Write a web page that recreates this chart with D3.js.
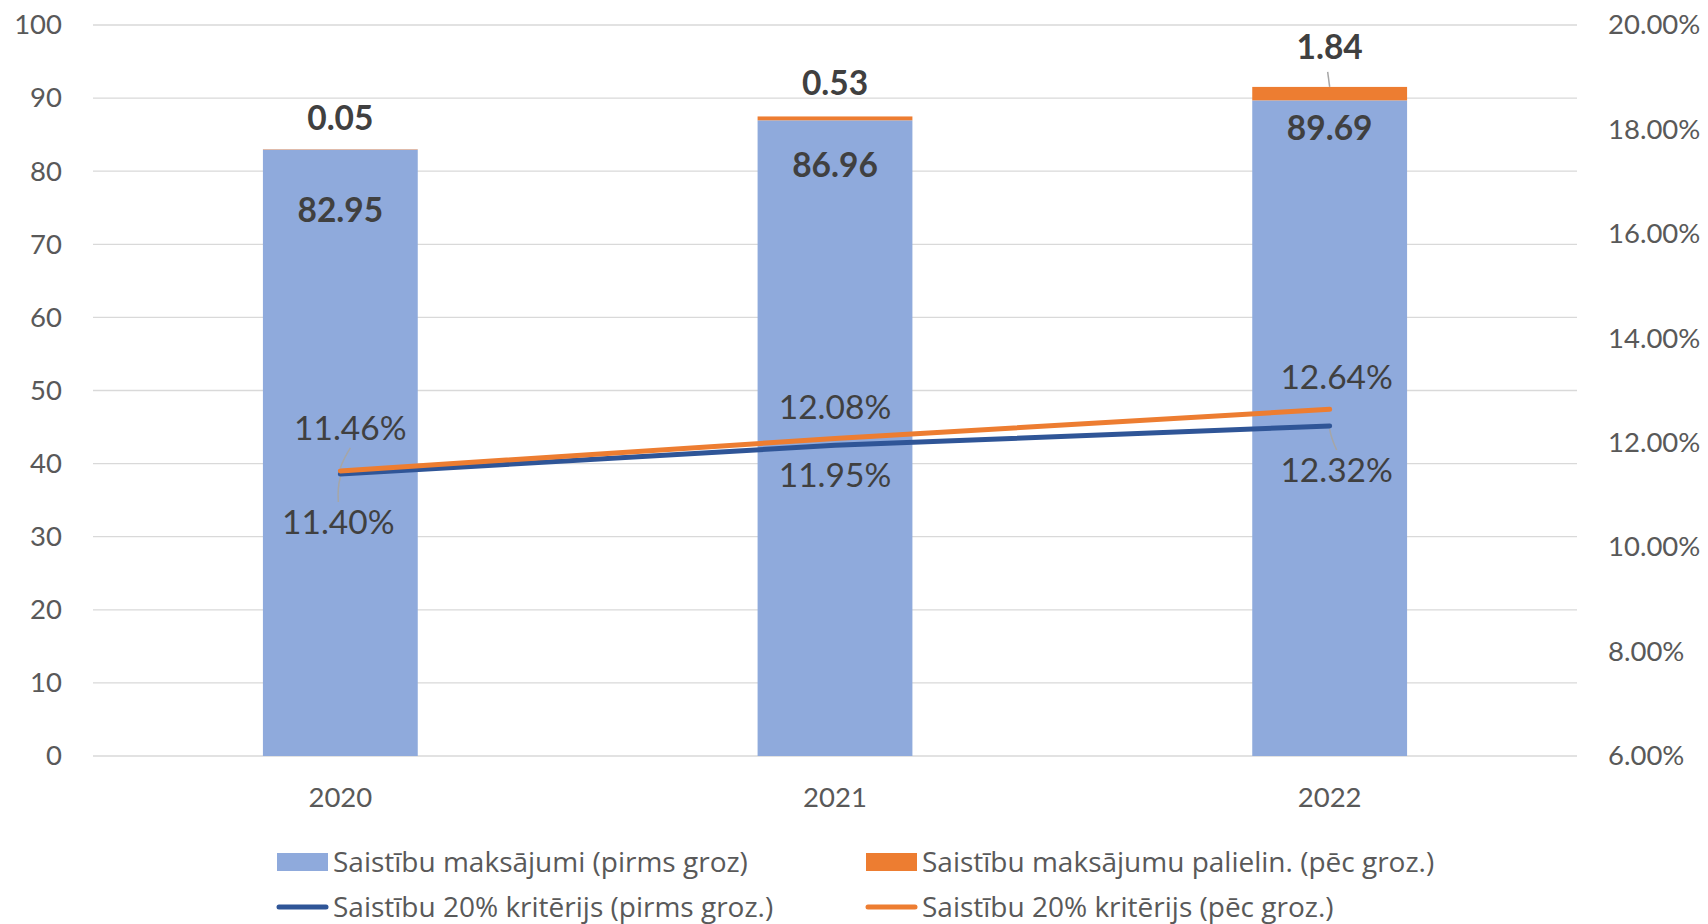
<!DOCTYPE html>
<html><head><meta charset="utf-8">
<script src="https://cdn.jsdelivr.net/npm/d3@7"></script>
<style>
html,body{margin:0;padding:0;background:#fff;}
svg{display:block;font-family:Lato,"Open Sans",sans-serif;}
</style></head>
<body>
<svg id="chart" width="1708" height="924"></svg>
<script>
// ---- data ----
const categories = ["2020", "2021", "2022"];
const paymentsBefore = [82.95, 86.96, 89.69];
const paymentsIncrease = [0.05, 0.53, 1.84];
const criterionBefore = [11.40, 11.95, 12.32];
const criterionAfter = [11.46, 12.08, 12.64];
const leftTicks = [0, 10, 20, 30, 40, 50, 60, 70, 80, 90, 100];
const rightTicks = [0.06, 0.08, 0.10, 0.12, 0.14, 0.16, 0.18, 0.20];
const legendLabels = [
  "Saistību maksājumi (pirms groz)",
  "Saistību maksājumu palielin. (pēc groz.)",
  "Saistību 20% kritērijs (pirms groz.)",
  "Saistību 20% kritērijs (pēc groz.)"
];

// ---- label layout (pixel offsets, not data) ----
const barLabelDy = [60, 45, 28];
const incLabelDy = [-31, -34, -40];
const incLeader = [false, false, true];
const afterLabelOff = [[10, -43, true], [0, -32, false], [7, -32, false]];
const beforeLabelOff = [[-2, 48, true], [0, 30, false], [7, 44, true]];

const colors = {bar: "#8FAADC", inc: "#ED7D31", lineBefore: "#2F5597", lineAfter: "#ED7D31",
  grid: "#D9D9D9", axisText: "#595959", label: "#404040", leader: "#A6A6A6"};

const svg = d3.select("#chart");
const M = {left: 93, right: 1577, top: 25, bottom: 756};
const axisFont = 27.5, labelFont = 33.5;

const x = d3.scaleBand().domain(categories).range([M.left, M.right]).paddingInner(0.687).paddingOuter(0.3435);
const y = d3.scaleLinear().domain([0, 100]).range([M.bottom, M.top]);
const y2 = d3.scaleLinear().domain([0.06, 0.20]).range([M.bottom, M.top]);
const cx = c => x(c) + x.bandwidth() / 2;

// gridlines
svg.append("g").selectAll("line").data(leftTicks).join("line")
  .attr("x1", M.left).attr("x2", M.right)
  .attr("y1", d => y(d)).attr("y2", d => y(d))
  .attr("stroke", colors.grid).attr("stroke-width", 1.3);

// left axis
const yAxis = d3.axisLeft(y).tickValues(leftTicks).tickSize(0).tickPadding(31).tickFormat(d3.format("d"));
const gl = svg.append("g").attr("transform", `translate(${M.left},0)`).call(yAxis);
gl.select(".domain").remove();
gl.selectAll("text").attr("fill", colors.axisText).attr("font-size", axisFont).attr("font-family", "Lato");

// right axis
const y2Axis = d3.axisRight(y2).tickValues(rightTicks).tickSize(0).tickPadding(31).tickFormat(d3.format(".2%"));
const gr = svg.append("g").attr("transform", `translate(${M.right},0)`).call(y2Axis);
gr.select(".domain").remove();
gr.selectAll("text").attr("fill", colors.axisText).attr("font-size", axisFont).attr("font-family", "Lato");

// x axis
const xAxis = d3.axisBottom(x).tickSize(0).tickPadding(31);
const gx = svg.append("g").attr("transform", `translate(0,${M.bottom})`).call(xAxis);
gx.select(".domain").remove();
gx.selectAll("text").attr("fill", colors.axisText).attr("font-size", axisFont).attr("font-family", "Lato");

// bars
svg.append("g").selectAll("rect").data(categories).join("rect")
  .attr("x", c => x(c)).attr("width", x.bandwidth())
  .attr("y", (c, i) => y(paymentsBefore[i]))
  .attr("height", (c, i) => y(0) - y(paymentsBefore[i]))
  .attr("fill", colors.bar);
svg.append("g").selectAll("rect").data(categories).join("rect")
  .attr("x", c => x(c)).attr("width", x.bandwidth())
  .attr("y", (c, i) => y(paymentsBefore[i] + paymentsIncrease[i]))
  .attr("height", (c, i) => y(paymentsBefore[i]) - y(paymentsBefore[i] + paymentsIncrease[i]))
  .attr("fill", colors.inc);

// lines
const lineGen = arr => d3.line().x((d, i) => cx(categories[i])).y(d => y2(d / 100))(arr);
svg.append("path").attr("d", lineGen(criterionBefore)).attr("fill", "none")
  .attr("stroke", colors.lineBefore).attr("stroke-width", 5).attr("stroke-linecap", "round").attr("stroke-linejoin", "round");
svg.append("path").attr("d", lineGen(criterionAfter)).attr("fill", "none")
  .attr("stroke", colors.lineAfter).attr("stroke-width", 5).attr("stroke-linecap", "round").attr("stroke-linejoin", "round");

// bar labels
const lbl = svg.append("g");
categories.forEach((c, i) => {
  const top = y(paymentsBefore[i]);
  lbl.append("text").attr("x", cx(c)).attr("y", top + barLabelDy[i]).attr("dy", "0.36em")
    .attr("text-anchor", "middle").attr("font-size", labelFont).attr("font-weight", "bold")
    .attr("fill", colors.label).text(paymentsBefore[i].toFixed(2));
  const stackTop = y(paymentsBefore[i] + paymentsIncrease[i]);
  const ly = stackTop + incLabelDy[i];
  lbl.append("text").attr("x", cx(c)).attr("y", ly).attr("dy", "0.36em")
    .attr("text-anchor", "middle").attr("font-size", labelFont).attr("font-weight", "bold")
    .attr("fill", colors.label).text(paymentsIncrease[i].toFixed(2));
  if (incLeader[i]) {
    lbl.append("line").attr("x1", cx(c) - 2).attr("y1", ly + 25).attr("x2", cx(c)).attr("y2", stackTop)
      .attr("stroke", colors.leader).attr("stroke-width", 1.5);
  }
});

// line labels
function lineLabel(val, i, off, below) {
  const px = cx(categories[i]), py = y2(val / 100);
  const lx = px + off[0], ly = py + off[1];
  if (off[2]) {
    const ey = below ? ly - 20 : ly + 20;
    lbl.append("path")
      .attr("d", `M${px},${below ? py + 3 : py - 3} Q${(px + lx) / 2 - 2},${(py + ey) / 2} ${lx},${ey}`)
      .attr("fill", "none").attr("stroke", colors.leader).attr("stroke-width", 1.5);
  }
  lbl.append("text").attr("x", lx).attr("y", ly).attr("dy", "0.36em")
    .attr("text-anchor", "middle").attr("font-size", labelFont)
    .attr("fill", colors.label).text(val.toFixed(2) + "%");
}
criterionAfter.forEach((v, i) => lineLabel(v, i, afterLabelOff[i], false));
criterionBefore.forEach((v, i) => lineLabel(v, i, beforeLabelOff[i], true));

// legend
const leg = svg.append("g").attr("font-size", 28).attr("fill", colors.axisText).attr("font-family", "'Open Sans', Lato, sans-serif");
const legPos = [[277, 862, "rect", colors.bar], [866, 862, "rect", colors.inc],
                [277, 907, "line", colors.lineBefore], [866, 907, "line", colors.lineAfter]];
legendLabels.forEach((t, i) => {
  const [lx, ly, kind, col] = legPos[i];
  if (kind === "rect") {
    leg.append("rect").attr("x", lx).attr("y", ly - 9).attr("width", 51).attr("height", 18).attr("fill", col);
  } else {
    leg.append("line").attr("x1", lx + 2).attr("x2", lx + 49).attr("y1", ly).attr("y2", ly)
      .attr("stroke", col).attr("stroke-width", 5).attr("stroke-linecap", "round");
  }
  leg.append("text").attr("x", lx + 56).attr("y", ly).attr("dy", "0.36em").text(t);
});
</script>
</body></html>
